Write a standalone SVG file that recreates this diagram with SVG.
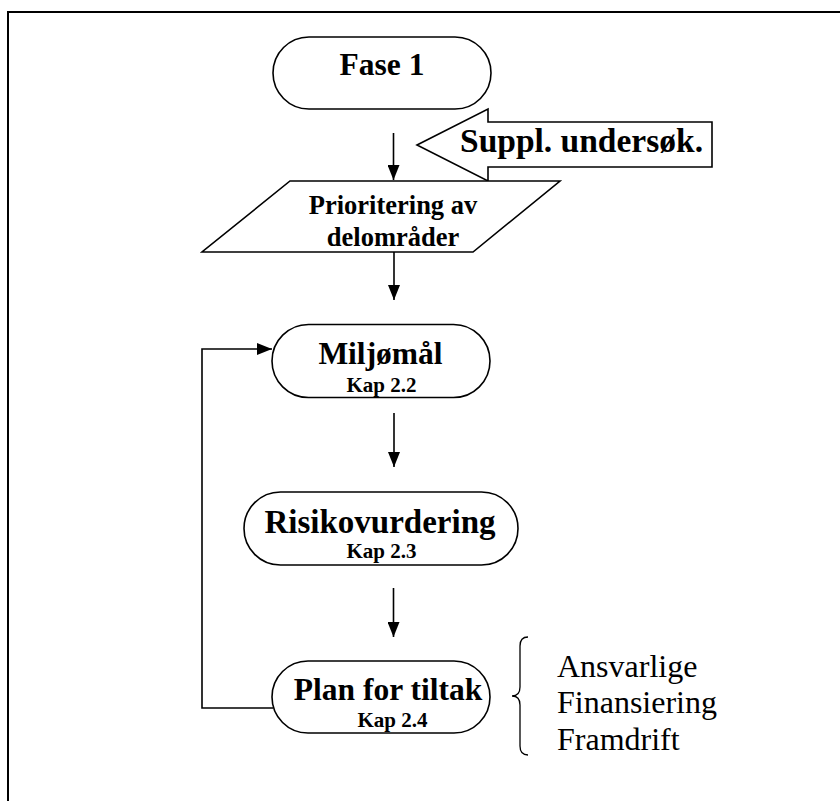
<svg xmlns="http://www.w3.org/2000/svg" width="840" height="801" viewBox="0 0 840 801">
<defs>
<style>
.shape{fill:#fff;stroke:#000;stroke-width:1.6}
.conn{fill:none;stroke:#000;stroke-width:1.6}
.t{font-family:"Liberation Serif","Times New Roman",serif;font-weight:bold;fill:#000;text-anchor:middle}
.big{font-size:31.5px}
.kap{font-size:21px}
.note{font-family:"Liberation Serif","Times New Roman",serif;font-size:32px;fill:#000}
</style>
<marker id="ah" markerUnits="userSpaceOnUse" markerWidth="15" markerHeight="12" refX="15" refY="6" orient="auto">
<path d="M0,0 L15,6 L0,12 z" fill="#000"/>
</marker>
</defs>
<rect width="840" height="801" fill="#fff"/>
<g id="frame">
<path d="M8,801 V12 H840" fill="none" stroke="#000" stroke-width="2"/>
</g>
<g id="connectors">
<line class="conn" x1="393.5" y1="133" x2="393.5" y2="180" marker-end="url(#ah)"/>
<line class="conn" x1="394" y1="252" x2="394" y2="300" marker-end="url(#ah)"/>
<line class="conn" x1="394" y1="413" x2="394" y2="467" marker-end="url(#ah)"/>
<line class="conn" x1="393.5" y1="588" x2="393.5" y2="637" marker-end="url(#ah)"/>
<path class="conn" d="M273,708 H202 V349 H272" marker-end="url(#ah)"/>
</g>
<g id="fase1">
<rect class="shape" x="273" y="37" width="218" height="72" rx="36" ry="36"/>
<text class="t big" x="382" y="75">Fase 1</text>
</g>
<g id="suppl">
<polygon class="shape" points="417,145 488,109 488,122 712,122 712,167 488,167 488,181"/>
<text class="t" x="460" y="152" style="font-size:33.5px;text-anchor:start">Suppl. undersøk.</text>
</g>
<g id="prioritering">
<polygon class="shape" points="290,181 560,181 473,252 202,252"/>
<text class="t" x="393" y="214" style="font-size:26.5px">Prioritering av</text>
<text class="t" x="393" y="246" style="font-size:26.5px">delområder</text>
</g>
<g id="miljomal">
<rect class="shape" x="272" y="324.5" width="218" height="73" rx="36.5" ry="36.5"/>
<text class="t big" x="380.5" y="364">Miljømål</text>
<text class="t kap" x="381.5" y="391.5">Kap 2.2</text>
</g>
<g id="risiko">
<rect class="shape" x="244" y="492" width="274" height="73" rx="36.5" ry="36.5"/>
<text class="t" x="380" y="533" style="font-size:33px">Risikovurdering</text>
<text class="t kap" x="381.5" y="558">Kap 2.3</text>
</g>
<g id="plan">
<rect class="shape" x="272" y="661" width="218" height="72" rx="36" ry="36"/>
<text class="t big" x="388" y="700">Plan for tiltak</text>
<text class="t kap" x="392.5" y="726.5">Kap 2.4</text>
</g>
<g id="brace">
<path d="M528,637 Q520,637 520,646 V687 Q520,696 512,696 Q520,696 520,705 V746 Q520,755 528,755" fill="none" stroke="#000" stroke-width="1.3"/>
</g>
<g id="notes">
<text class="note" x="557" y="677">Ansvarlige</text>
<text class="note" x="557" y="713">Finansiering</text>
<text class="note" x="557" y="750">Framdrift</text>
</g>
</svg>
